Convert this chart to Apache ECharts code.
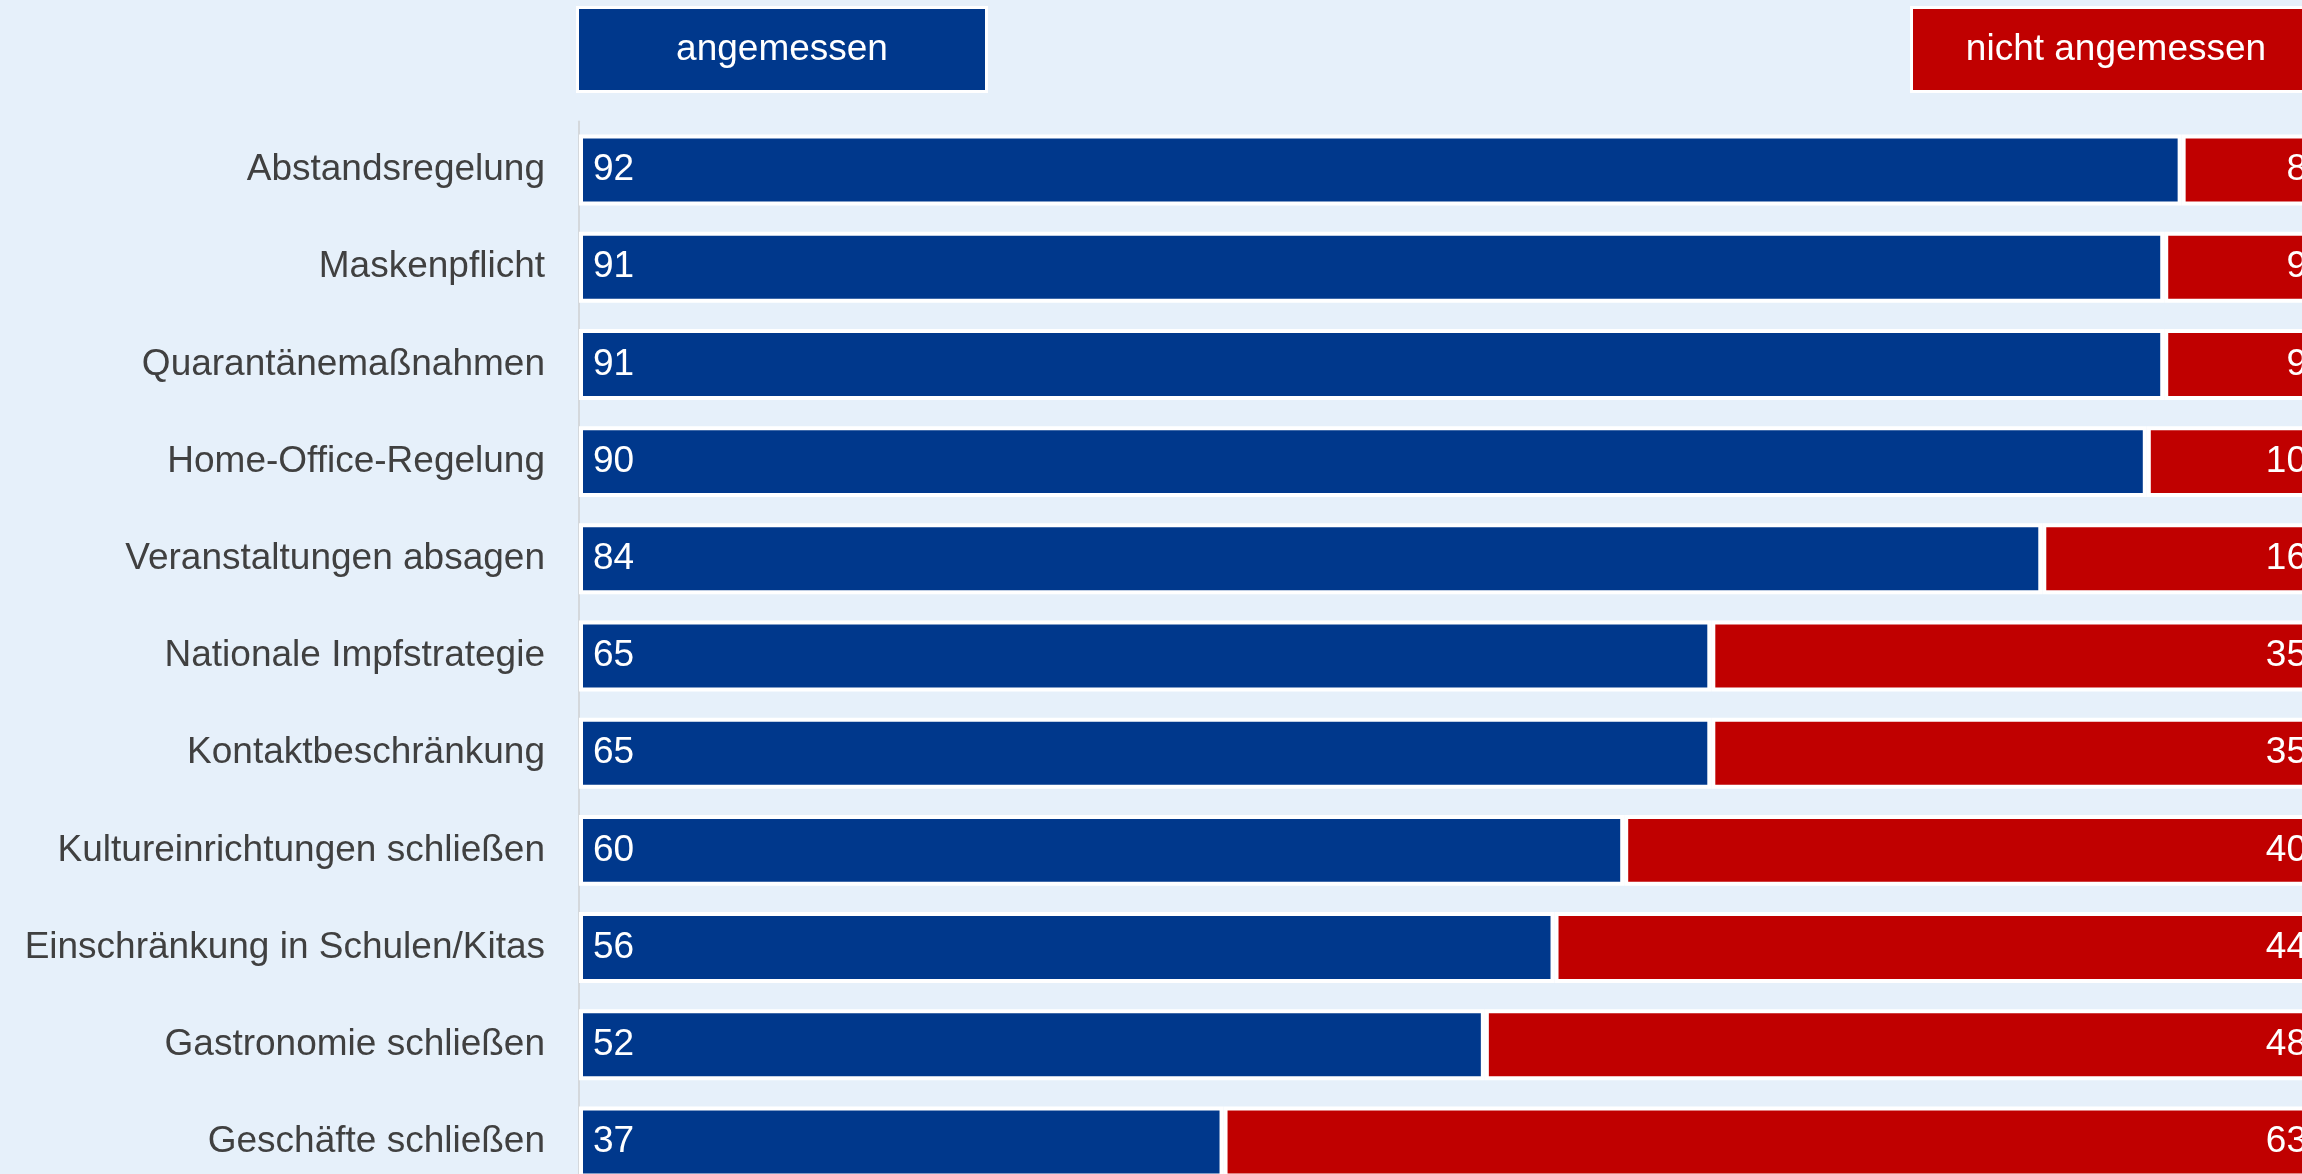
<!DOCTYPE html>
<html>
<head>
<meta charset="utf-8">
<style>
html,body{margin:0;padding:0;background:#e6f0fa;}
#chart{width:2302px;height:1174px;}
</style>
<script src="https://cdn.jsdelivr.net/npm/echarts@6/dist/echarts.min.js"></script>
</head>
<body>
<div id="chart"></div>
<script>
const categories = ['Abstandsregelung','Maskenpflicht','Quarantänemaßnahmen','Home-Office-Regelung','Veranstaltungen absagen','Nationale Impfstrategie','Kontaktbeschränkung','Kultureinrichtungen schließen','Einschränkung in Schulen/Kitas','Gastronomie schließen','Geschäfte schließen'];
const angemessen = [92,91,91,90,84,65,65,60,56,52,37];
const nichtAngemessen = [8,9,9,10,16,35,35,40,44,48,63];
const seriesNames = ['angemessen','nicht angemessen'];

const BLUE = '#00388c';
const RED = '#c00000';
const FONT = '"Liberation Sans", Arial, sans-serif';

const chart = echarts.init(document.getElementById('chart'), null, {renderer:'canvas'});
chart.setOption({
  backgroundColor:'#e6f0fa',
  animation:false,
  grid:{left:579, right:-19, top:121.5, bottom:-16.5, containLabel:false, outerBoundsMode:'none'},
  xAxis:{type:'value', min:0, max:100, show:false},
  yAxis:{
    type:'category', data:categories, inverse:true, offset:2,
    axisLine:{show:true, lineStyle:{color:'#d4d8dc', width:2}},
    axisTick:{show:false},
    axisLabel:{color:'#404040', fontSize:37, fontFamily:FONT, margin:32}
  },
  graphic:[
    {type:'rect', shape:{x:577.5,y:7.5,width:409,height:84}, style:{fill:BLUE, stroke:'#ffffff', lineWidth:3}},
    {type:'text', x:782, y:49.5, style:{text:seriesNames[0], fill:'#ffffff', font:'37px '+FONT, textAlign:'center', textVerticalAlign:'middle'}},
    {type:'rect', shape:{x:1911.5,y:7.5,width:409,height:84}, style:{fill:RED, stroke:'#ffffff', lineWidth:3}},
    {type:'text', x:2116, y:49.5, style:{text:seriesNames[1], fill:'#ffffff', font:'37px '+FONT, textAlign:'center', textVerticalAlign:'middle'}}
  ],
  series:[
    {name:seriesNames[0], type:'bar', stack:'s', data:angemessen, barWidth:'73%',
     itemStyle:{color:BLUE, borderColor:'#ffffff', borderWidth:4},
     label:{show:true, position:'insideLeft', distance:14, color:'#ffffff', fontSize:37, fontFamily:FONT}},
    {name:seriesNames[1], type:'bar', stack:'s', data:nichtAngemessen, barWidth:'73%',
     itemStyle:{color:RED, borderColor:'#ffffff', borderWidth:4},
     label:{show:true, position:'insideRight', distance:14, color:'#ffffff', fontSize:37, fontFamily:FONT}}
  ]
});
</script>
</body>
</html>
